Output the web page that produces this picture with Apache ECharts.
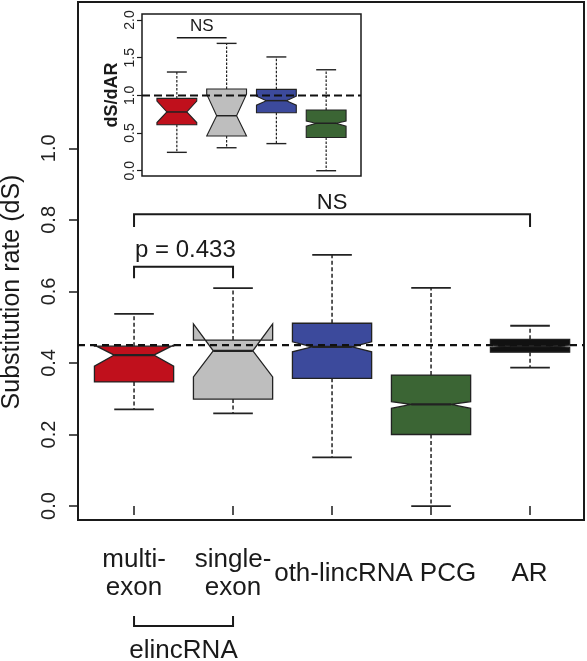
<!DOCTYPE html>
<html><head><meta charset="utf-8">
<script src="https://cdn.jsdelivr.net/npm/echarts@6/dist/echarts.min.js"></script>
<style>html,body{margin:0;padding:0;background:#fff}#c{width:587px;height:661px}</style>
</head><body><div id="c"></div>
<script>
// ---------- data ----------
const mainCategories = ['multi-\nexon', 'single-\nexon', 'oth-lincRNA', 'PCG', 'AR'];
const mainPositions = [1, 2, 3, 4, 5];
const mainWhiskerLow = [0.270, 0.259, 0.136, 0.000, 0.387];
const mainQ1 = [0.347, 0.299, 0.357, 0.200, 0.430];
const mainMedian = [0.422, 0.434, 0.445, 0.284, 0.447];
const mainQ3 = [0.447, 0.464, 0.511, 0.366, 0.466];
const mainWhiskerHigh = [0.537, 0.609, 0.702, 0.610, 0.504];
const mainNotchLow = [0.391, 0.361, 0.431, 0.273, 0.444];
const mainNotchHigh = [0.450, 0.509, 0.459, 0.292, 0.450];
const mainRefLine = 0.45;
const mainYTicks = [0, 0.2, 0.4, 0.6, 0.8, 1.0];

const insetPositions = [1, 2, 3, 4];
const insetWhiskerLow = [0.244, 0.305, 0.36, 0.0];
const insetQ1 = [0.61, 0.46, 0.77, 0.44];
const insetMedian = [0.78, 0.73, 0.93, 0.63];
const insetQ3 = [0.96, 1.085, 1.08, 0.806];
const insetWhiskerHigh = [1.31, 1.69, 1.51, 1.34];
const insetNotchLow = [0.64, 0.46, 0.87, 0.59];
const insetNotchHigh = [0.925, 1.015, 0.99, 0.66];
const insetRefLine = 1.0;
const insetYTicks = [0, 0.5, 1.0, 1.5, 2.0];

const mainCompareFrom = [1, 1];
const mainCompareTo = [5, 2];
const mainCompareBarY = [0.816, 0.669];
const mainCompareLegY = [0.780, 0.637];
const mainCompareText = ['NS', 'p = 0.433'];
const mainCompareTextY = [0.848, 0.716];

const insetCompareFrom = [1];
const insetCompareTo = [2];
const insetCompareBarY = [1.765];
const insetCompareText = ['NS'];
const insetCompareTextY = [1.92];

const groupFrom = [1];
const groupTo = [2];
const groupLabel = ['elincRNA'];

// ---------- styles / layout ----------
const FONT = '"Liberation Sans", Arial, Helvetica, sans-serif';
const boxColors = ['#C0101C', '#BEBEBE', '#3C4A9C', '#3B6534', '#111111'];
const ink = '#1a1a1a';
const mainX = [0.434, 5.545], mainY = [-0.039, 1.409];
const insetX = [0.3, 4.7], insetY = [-0.07, 2.08];
const xLabelNudge = [0, 0, 11.5, 17, -0.5];
const mainCompareAlign = ['center', 'left'];
const mainCompareFont = [22, 24];

function line(c, x1, y1, x2, y2, style) {
  const a = c(x1, y1), b = c(x2, y2);
  return { type: 'line', shape: { x1: a[0], y1: a[1], x2: b[0], y2: b[1] }, style: style };
}

function boxRenderer(o) {
  return function (params, api) {
    const pos = api.value(0), wl = api.value(1), q1 = api.value(2), md = api.value(3),
      q3 = api.value(4), wh = api.value(5), cl = api.value(6), cu = api.value(7);
    const hw = 0.4, nw = 0.5, cw = 0.2;
    const c = (x, y) => api.coord([x, y]);
    const ws = { stroke: '#222', lineWidth: o.wLW, lineDash: o.wDash, fill: null };
    const cs = { stroke: '#222', lineWidth: o.capLW, fill: null };
    const pts = [c(pos - hw, q1), c(pos + hw, q1), c(pos + hw, cl), c(pos + hw * nw, md), c(pos + hw, cu),
      c(pos + hw, q3), c(pos - hw, q3), c(pos - hw, cu), c(pos - hw * nw, md), c(pos - hw, cl)];
    return {
      type: 'group',
      children: [
        line(c, pos, q3, pos, wh, ws),
        line(c, pos, q1, pos, wl, ws),
        line(c, pos - cw, wh, pos + cw, wh, cs),
        line(c, pos - cw, wl, pos + cw, wl, cs),
        { type: 'polygon', shape: { points: pts }, style: { fill: o.colors[params.dataIndex], stroke: '#222', lineWidth: o.boxLW } },
        line(c, pos - hw * nw, md, pos + hw * nw, md, { stroke: '#222', lineWidth: o.medLW })
      ]
    };
  };
}

function compareRenderer(o) {
  return function (params, api) {
    const f = api.value(0), t = api.value(1), by = api.value(2), ly = api.value(3), ty = api.value(4);
    const c = (x, y) => api.coord([x, y]);
    const a = c(f, by), b = c(t, by), la = c(f, ly), lb = c(t, ly);
    const tp = c(f, ty);
    const al = o.align[params.dataIndex];
    const tx = al === 'center' ? (a[0] + b[0]) / 2 : a[0] + 1;
    return {
      type: 'group',
      children: [
        { type: 'polyline', shape: { points: [la, a, b, lb] }, style: { stroke: ink, lineWidth: o.lw, fill: null } },
        { type: 'text', x: tx, y: tp[1], style: { text: o.texts[params.dataIndex], fontSize: o.fs[params.dataIndex], fontFamily: FONT, fill: ink, align: al, verticalAlign: 'middle' } }
      ]
    };
  };
}

const mainBoxData = mainPositions.map((p, i) => [p, mainWhiskerLow[i], mainQ1[i], mainMedian[i], mainQ3[i], mainWhiskerHigh[i], mainNotchLow[i], mainNotchHigh[i]]);
const insetBoxData = insetPositions.map((p, i) => [p, insetWhiskerLow[i], insetQ1[i], insetMedian[i], insetQ3[i], insetWhiskerHigh[i], insetNotchLow[i], insetNotchHigh[i]]);
const mainCompareData = mainCompareFrom.map((f, i) => [f, mainCompareTo[i], mainCompareBarY[i], mainCompareLegY[i], mainCompareTextY[i]]);
const insetCompareData = insetCompareFrom.map((f, i) => [f, insetCompareTo[i], insetCompareBarY[i], insetCompareBarY[i], insetCompareTextY[i]]);

const chart = echarts.init(document.getElementById('c'), null, { renderer: 'canvas' });
chart.setOption({
  animation: false,
  backgroundColor: '#fff',
  textStyle: { fontFamily: FONT },
  grid: [
    { left: 78, top: 2, width: 506, height: 518, show: true, borderColor: ink, borderWidth: 2, backgroundColor: 'transparent' },
    { left: 142, top: 14, width: 219, height: 162, show: true, borderColor: ink, borderWidth: 1.5, backgroundColor: '#fff' }
  ],
  xAxis: [
    { gridIndex: 0, type: 'value', min: mainX[0], max: mainX[1], axisLine: { show: false }, splitLine: { show: false },
      axisTick: { show: true, customValues: mainPositions, length: 9, lineStyle: { color: ink, width: 1.5 } }, axisLabel: { show: false } },
    { gridIndex: 1, type: 'value', min: insetX[0], max: insetX[1], axisLine: { show: false }, splitLine: { show: false },
      axisTick: { show: false }, axisLabel: { show: false } }
  ],
  yAxis: [
    { gridIndex: 0, type: 'value', min: mainY[0], max: mainY[1], axisLine: { show: false }, splitLine: { show: false },
      axisTick: { show: true, customValues: mainYTicks, length: 9, lineStyle: { color: ink, width: 1.5 } },
      axisLabel: { customValues: mainYTicks, rotate: 90, fontSize: 20, margin: 19, color: '#222', fontFamily: FONT, formatter: v => v.toFixed(1) } },
    { gridIndex: 1, type: 'value', min: insetY[0], max: insetY[1], axisLine: { show: false }, splitLine: { show: false },
      axisTick: { show: true, customValues: insetYTicks, length: 5, lineStyle: { color: ink, width: 1.2 } },
      axisLabel: { customValues: insetYTicks, rotate: 90, fontSize: 14, margin: 5, color: '#222', fontFamily: FONT, formatter: v => v.toFixed(1) } }
  ],
  series: [
    { type: 'custom', xAxisIndex: 0, yAxisIndex: 0, z: 2, silent: true,
      renderItem: boxRenderer({ colors: boxColors, wLW: 1.5, wDash: [4, 2.5], capLW: 1.8, boxLW: 1.3, medLW: 2.2 }),
      encode: { x: 0, y: [1, 2, 3, 4, 5, 6, 7] }, data: mainBoxData },
    { type: 'line', xAxisIndex: 0, yAxisIndex: 0, z: 5, silent: true, showSymbol: false,
      lineStyle: { color: '#111', width: 2.2, type: [7, 5] }, data: [[mainX[0], mainRefLine], [mainX[1], mainRefLine]] },
    { type: 'custom', xAxisIndex: 0, yAxisIndex: 0, z: 4, silent: true,
      renderItem: compareRenderer({ lw: 2, fs: mainCompareFont, texts: mainCompareText, align: mainCompareAlign }),
      encode: { x: [0, 1], y: [2, 3, 4] }, data: mainCompareData },
    { type: 'custom', xAxisIndex: 0, yAxisIndex: 0, z: 4, silent: true, clip: false,
      renderItem: function (params, api) {
        const p = api.coord([api.value(0), mainY[0]]);
        const x = p[0] + xLabelNudge[params.dataIndex];
        return { type: 'text', x: x, y: p[1] + 54, style: { text: mainCategories[params.dataIndex], fontSize: 26, lineHeight: 28, fontFamily: FONT, fill: ink, align: 'center', verticalAlign: 'middle' } };
      },
      encode: { x: 0, y: 1 }, data: mainPositions.map(p => [p, mainY[0]]) },
    { type: 'custom', xAxisIndex: 0, yAxisIndex: 0, z: 4, silent: true, clip: false,
      renderItem: function (params, api) {
        const a = api.coord([api.value(0), mainY[0]]), b = api.coord([api.value(1), mainY[0]]);
        return { type: 'group', children: [
          { type: 'polyline', shape: { points: [[a[0], a[1] + 96], [a[0], a[1] + 106], [b[0], b[1] + 106], [b[0], b[1] + 96]] }, style: { stroke: ink, lineWidth: 2, fill: null } },
          { type: 'text', x: (a[0] + b[0]) / 2, y: a[1] + 131, style: { text: groupLabel[params.dataIndex], fontSize: 26, fontFamily: FONT, fill: ink, align: 'center', verticalAlign: 'middle' } }
        ] };
      },
      encode: { x: [0, 1], y: 2 }, data: groupFrom.map((f, i) => [f, groupTo[i], mainY[0]]) },
    { type: 'custom', xAxisIndex: 1, yAxisIndex: 1, z: 6, silent: true,
      renderItem: boxRenderer({ colors: boxColors, wLW: 1.2, wDash: [2.5, 1.5], capLW: 1.4, boxLW: 1.1, medLW: 1.5 }),
      encode: { x: 0, y: [1, 2, 3, 4, 5, 6, 7] }, data: insetBoxData },
    { type: 'line', xAxisIndex: 1, yAxisIndex: 1, z: 7, silent: true, showSymbol: false,
      lineStyle: { color: '#111', width: 2, type: [8, 4] }, data: [[insetX[0], insetRefLine], [insetX[1], insetRefLine]] },
    { type: 'custom', xAxisIndex: 1, yAxisIndex: 1, z: 7, silent: true,
      renderItem: compareRenderer({ lw: 1.5, fs: [17], texts: insetCompareText, align: ['center'] }),
      encode: { x: [0, 1], y: [2, 3, 4] }, data: insetCompareData }
  ],
  graphic: [
    { type: 'text', x: 12, y: 292, rotation: Math.PI / 2, silent: true,
      style: { text: 'Substitution rate (dS)', fontSize: 25, fontFamily: FONT, fill: ink, align: 'center', verticalAlign: 'middle' } },
    { type: 'text', x: 112, y: 95, rotation: Math.PI / 2, silent: true, z: 10,
      style: { text: 'dS/dAR', fontSize: 18, fontWeight: 'bold', fontFamily: FONT, fill: ink, align: 'center', verticalAlign: 'middle' } }
  ]
});
</script></body></html>
